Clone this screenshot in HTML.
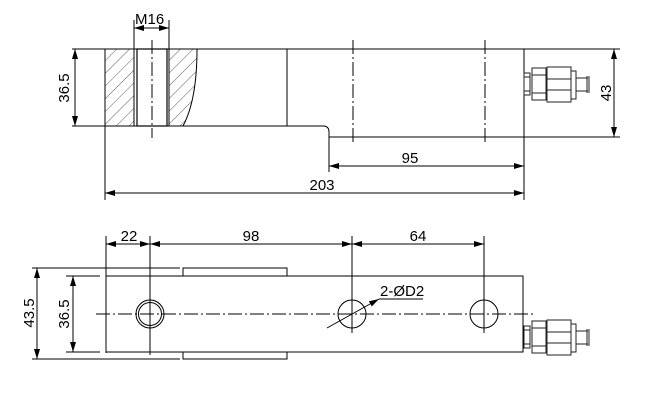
<!DOCTYPE html>
<html><head><style>body{margin:0;background:#fff}svg{display:block}text{font-family:"Liberation Sans",sans-serif;font-size:15px;fill:#000}</style></head><body>
<svg width="666" height="402" viewBox="0 0 666 402" xmlns="http://www.w3.org/2000/svg">
<defs>
<marker id="a" viewBox="0 0 10 6" refX="10" refY="3" markerWidth="10" markerHeight="6" orient="auto-start-reverse" markerUnits="userSpaceOnUse"><path d="M0,0L10,3L0,6z" fill="#000"/></marker>
<pattern id="h" width="9" height="9" patternUnits="userSpaceOnUse" patternTransform="rotate(45)"><line x1="0" y1="0" x2="0" y2="9" stroke="#333" stroke-width="0.8"/></pattern>
<g id="conn" fill="none" stroke="#222" stroke-width="1">
<rect x="0" y="-12" width="6" height="22"/><line x1="0" y1="-8" x2="6" y2="-8"/><line x1="0" y1="6" x2="6" y2="6"/>
<rect x="8" y="-17" width="14" height="32"/><line x1="8" y1="-10" x2="22" y2="-10"/><line x1="8" y1="8" x2="22" y2="8"/>
<rect x="23" y="-18" width="24" height="35"/><line x1="23" y1="-6" x2="47" y2="-6"/><line x1="23" y1="5" x2="47" y2="5"/>
<rect x="47" y="-14" width="5" height="28"/>
<line x1="52" y1="-7" x2="64" y2="-7"/><line x1="52" y1="6" x2="64" y2="6"/>
<line x1="63" y1="-9" x2="63" y2="8"/><line x1="65" y1="-9" x2="65" y2="8"/>
</g>
</defs>
<g stroke="#000" stroke-width="1" fill="none">
<rect x="105" y="49" width="29" height="77" fill="url(#h)" stroke="none"/>
<path d="M169,49 L197,49 Q197,100 183,126 L169,126 Z" fill="url(#h)" stroke="none"/>
<line x1="72" y1="49" x2="620" y2="49"/>
<path d="M72,126 L323,126 Q329,126 329,132 L329,172"/>
<line x1="329" y1="137" x2="620" y2="137"/>
<line x1="105" y1="49" x2="105" y2="200"/>
<line x1="134" y1="20" x2="134" y2="126"/>
<line x1="169" y1="20" x2="169" y2="126"/>
<rect x="137" y="49" width="30" height="77" stroke-width="1.2"/>
<path d="M197,49 Q197,100 183,126"/>
<line x1="287" y1="49" x2="287" y2="126"/>
<line x1="524" y1="49" x2="524" y2="200"/>
<line x1="152" y1="40" x2="152" y2="138" stroke-dasharray="14,3,2,3"/>
<line x1="353" y1="40" x2="353" y2="145" stroke-dasharray="14,3,2,3"/>
<line x1="485" y1="40" x2="485" y2="145" stroke-dasharray="14,3,2,3"/>
<line x1="134" y1="28" x2="169" y2="28" marker-start="url(#a)" marker-end="url(#a)"/>
<line x1="75" y1="49" x2="75" y2="126" marker-start="url(#a)" marker-end="url(#a)"/>
<line x1="614" y1="49" x2="614" y2="137" marker-start="url(#a)" marker-end="url(#a)"/>
<line x1="329" y1="166" x2="524" y2="166" marker-start="url(#a)" marker-end="url(#a)"/>
<line x1="105" y1="193" x2="524" y2="193" marker-start="url(#a)" marker-end="url(#a)"/>
<use href="#conn" x="524" y="85"/>
<line x1="106" y1="236" x2="106" y2="353"/>
<line x1="150" y1="236" x2="150" y2="355"/>
<line x1="352" y1="236" x2="352" y2="333"/>
<line x1="484" y1="236" x2="484" y2="333"/>
<line x1="106" y1="244" x2="150" y2="244" marker-start="url(#a)" marker-end="url(#a)"/>
<line x1="150" y1="244" x2="352" y2="244" marker-start="url(#a)" marker-end="url(#a)"/>
<line x1="352" y1="244" x2="484" y2="244" marker-start="url(#a)" marker-end="url(#a)"/>
<rect x="106" y="276" width="417" height="76"/>
<rect x="183" y="268" width="104" height="8"/>
<rect x="183" y="352" width="104" height="7"/>
<line x1="32" y1="268" x2="180" y2="268"/>
<line x1="32" y1="359" x2="180" y2="359"/>
<line x1="66" y1="276" x2="100" y2="276"/>
<line x1="66" y1="352" x2="100" y2="352"/>
<line x1="37" y1="268" x2="37" y2="359" marker-start="url(#a)" marker-end="url(#a)"/>
<line x1="73" y1="276" x2="73" y2="352" marker-start="url(#a)" marker-end="url(#a)"/>
<line x1="96" y1="314" x2="535" y2="314" stroke-dasharray="14,3,2,3"/>
<circle cx="150" cy="314" r="14"/><circle cx="150" cy="314" r="11.5"/>
<circle cx="352" cy="314" r="14"/><circle cx="484" cy="314" r="14"/>
<line x1="327" y1="328" x2="379" y2="299" marker-end="url(#a)"/>
<line x1="379" y1="299" x2="423" y2="299"/>
<use href="#conn" x="524" y="338"/>
</g>
<text x="135" y="24">M16</text>
<text transform="translate(69,88) rotate(-90)" text-anchor="middle">36.5</text>
<text transform="translate(611,93) rotate(-90)" text-anchor="middle">43</text>
<text x="410" y="163" text-anchor="middle">95</text>
<text x="322" y="190" text-anchor="middle">203</text>
<text x="129" y="241" text-anchor="middle">22</text>
<text x="251" y="241" text-anchor="middle">98</text>
<text x="418" y="241" text-anchor="middle">64</text>
<text transform="translate(34,313) rotate(-90)" text-anchor="middle">43.5</text>
<text transform="translate(69,314) rotate(-90)" text-anchor="middle">36.5</text>
<text x="380" y="296">2-ØD2</text>
</svg>
</body></html>
